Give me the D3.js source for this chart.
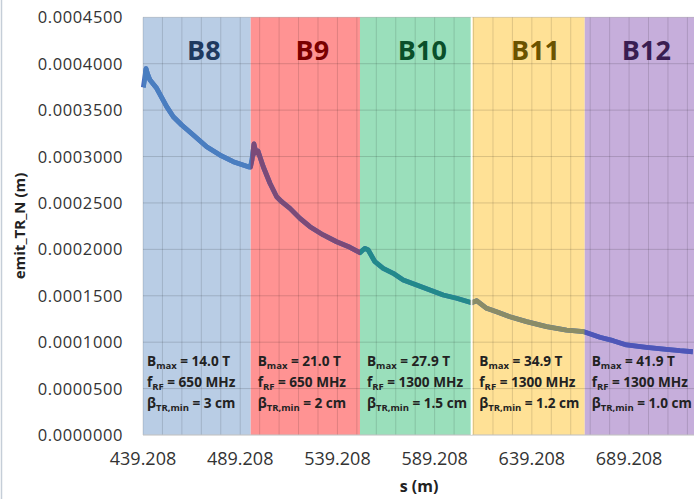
<!DOCTYPE html>
<html><head><meta charset="utf-8">
<script src="https://cdn.jsdelivr.net/npm/d3@7"></script>
<style>
html,body{margin:0;padding:0;background:#fff;}
svg{display:block;font-family:"Open Sans",sans-serif;}
</style></head>
<body>
<svg id="chart" width="696" height="499"></svg>
<script>
// ---- data ----
const sValues = [439.36,440.75,441.52,442.81,446.25,451.39,454.79,459.10,465.07,471.96,478.80,485.63,493.35,494.48,
  495.25,496.28,497.31,498.34,501.06,504.50,507.95,510.52,514.79,519.93,525.07,531.91,538.80,545.63,550.77,
  552.31,553.34,555.04,558.48,562.75,567.90,573.04,579.93,586.77,593.61,600.50,608.21,
  610.78,615.92,621.06,627.90,636.48,646.77,657.05,665.94,
  674.17,681.01,687.90,698.18,708.46,715.30,721.98];
const emitValues = [0.0003746,0.0003946,0.0003889,0.0003824,0.0003735,0.0003537,0.0003429,0.0003340,0.0003232,0.0003106,0.0003016,0.0002944,0.0002890,0.0002887,
  0.0002963,0.0003135,0.0003038,0.0003060,0.0002890,0.0002712,0.0002567,0.0002513,0.0002442,0.0002334,0.0002244,0.0002155,0.0002082,0.0002022,0.0001964,
  0.0001993,0.0002011,0.0001993,0.0001867,0.0001796,0.0001742,0.0001670,0.0001616,0.0001562,0.0001508,0.0001473,0.0001425,
  0.0001447,0.0001365,0.0001328,0.0001274,0.0001221,0.0001167,0.0001131,0.0001113,
  0.0001053,0.0001016,0.0000970,0.0000945,0.0000923,0.0000908,0.0000897];
const regionNames = ["B8","B9","B10","B11","B12"];
const regionStart = [439.208,494.6,550.8,608.6,666.4];
const regionEnd   = [494.6,550.8,607.8,666.4,722.6];
const bmaxText = ["14.0 T","21.0 T","27.9 T","34.9 T","41.9 T"];
const frfText  = ["650 MHz","650 MHz","1300 MHz","1300 MHz","1300 MHz"];
const betaText = ["3 cm","2 cm","1.5 cm","1.2 cm","1.0 cm"];
const xTickValues = [439.208,489.208,539.208,589.208,639.208,689.208];
const xTickLabels = ["439.208","489.208","539.208","589.208","639.208","689.208"];
const yTickValues = [0,0.00005,0.0001,0.00015,0.0002,0.00025,0.0003,0.00035,0.0004,0.00045];
const yTickLabels = ["0.0000000","0.0000500","0.0001000","0.0001500","0.0002000","0.0002500","0.0003000","0.0003500","0.0004000","0.0004500"];
const xMin = 439.208, xMax = 722.6, gridStep = 10;

// ---- styles ----
const regionFill = ["#b9cde5","#ff9393","#9adfbb","#ffe196","#c6aedb"];
const regionLabelColor = ["#1f3a5f","#7a0000","#0a4f2a","#6b5300","#3a1d52"];
const lineColor = ["#4a7ec0","#7b4a78","#22898b","#8a8c67","#4e56b8"];

const svg = d3.select("#chart");
const L = 143, R = 694, T = 17.3, B = 435;
const x = d3.scaleLinear().domain([xMin, xMax]).range([L, R]);
const y = d3.scaleLinear().domain([0, 0.00045]).range([B, T]);

// left border of chart area
svg.append("line").attr("x1",1.5).attr("x2",1.5).attr("y1",0).attr("y2",499)
  .attr("stroke","#c5ced8").attr("stroke-width",1.5);

// region backgrounds
const defs = svg.append("defs");
regionNames.forEach((n,i)=>{
  svg.append("rect").attr("x",x(regionStart[i])).attr("y",T)
    .attr("width",x(regionEnd[i])-x(regionStart[i])).attr("height",B-T)
    .attr("fill",regionFill[i]);
  defs.append("clipPath").attr("id","clip"+i).append("rect")
    .attr("x",x(regionStart[i]) - (i===3?2:0)).attr("y",0)
    .attr("width",x(regionEnd[i])-x(regionStart[i]) + (i===3?2:0)).attr("height",499);
});

// gridlines
const vg = d3.range(xMin, xMax, gridStep);
svg.append("g").selectAll("line").data(vg).join("line")
  .attr("x1",d=>x(d)).attr("x2",d=>x(d)).attr("y1",T).attr("y2",B)
  .attr("stroke","rgba(0,0,0,0.13)").attr("stroke-width",1);
svg.append("g").selectAll("line").data(yTickValues).join("line")
  .attr("x1",L).attr("x2",R).attr("y1",d=>y(d)).attr("y2",d=>y(d))
  .attr("stroke","rgba(0,0,0,0.15)").attr("stroke-width",1);
svg.append("line").attr("x1",L).attr("x2",R).attr("y1",B).attr("y2",B)
  .attr("stroke","#d0d0d0").attr("stroke-width",1);

// line
const pts = sValues.map((s,i)=>[s, emitValues[i]]);
const lineGen = d3.line().x(d=>x(d[0])).y(d=>y(d[1]));
svg.append("path").attr("d",lineGen(pts)).attr("fill","none")
  .attr("stroke","#4a70c0").attr("stroke-width",4.8).attr("stroke-linejoin","round");
regionNames.forEach((n,i)=>{
  svg.append("path").attr("d",lineGen(pts)).attr("fill","none")
    .attr("clip-path","url(#clip"+i+")")
    .attr("stroke",lineColor[i]).attr("stroke-width",4.8).attr("stroke-linejoin","round");
});
// white gap between B10 and B11
svg.append("line").attr("x1",x(608.2)).attr("x2",x(608.2)).attr("y1",T).attr("y2",B)
  .attr("stroke","#ffffff").attr("stroke-width",1.6).attr("opacity",0.9);

// region labels
regionNames.forEach((n,i)=>{
  const cx = (x(regionStart[i])+x(regionEnd[i]))/2 + 7;
  svg.append("text").attr("x",cx).attr("y",60).attr("text-anchor","middle")
    .attr("font-size",27).attr("font-weight","bold").attr("fill",regionLabelColor[i]).text(n);
});

// annotations
regionNames.forEach((n,i)=>{
  const x0 = x(regionStart[i]) + (i===0?4:7);
  const g = svg.append("g").attr("font-size",13.6).attr("font-weight","bold").attr("fill","#222");
  const t1 = g.append("text").attr("x",x0).attr("y",366);
  t1.append("tspan").text("B");
  t1.append("tspan").attr("font-size",9.5).attr("dy",3).text("max");
  t1.append("tspan").attr("dy",-3).text(" = " + bmaxText[i]);
  const t2 = g.append("text").attr("x",x0).attr("y",387);
  t2.append("tspan").text("f");
  t2.append("tspan").attr("font-size",9.5).attr("dy",3).text("RF");
  t2.append("tspan").attr("dy",-3).text(" = " + frfText[i]);
  const t3 = g.append("text").attr("x",x0).attr("y",408);
  t3.append("tspan").text("β");
  t3.append("tspan").attr("font-size",9.5).attr("dy",3).text("TR,min");
  t3.append("tspan").attr("dy",-3).text(" = " + betaText[i]);
});

// y axis labels
svg.append("g").selectAll("text").data(yTickValues).join("text")
  .attr("x",123).attr("y",d=>y(d)+6).attr("text-anchor","end")
  .attr("font-size",16.5).attr("letter-spacing",0.6).attr("fill","#333")
  .text((d,i)=>yTickLabels[i]);
// x axis labels
svg.append("g").selectAll("text").data(xTickValues).join("text")
  .attr("x",d=>x(d)).attr("y",465).attr("text-anchor","middle")
  .attr("font-size",18).attr("fill","#333")
  .text((d,i)=>xTickLabels[i]);

// axis titles
svg.append("text").attr("transform","translate(25,226) rotate(-90)")
  .attr("text-anchor","middle").attr("font-size",15).attr("font-weight","bold").attr("fill","#222")
  .text("emit_TR_N (m)");
svg.append("text").attr("x",419).attr("y",492).attr("text-anchor","middle")
  .attr("font-size",16).attr("font-weight","bold").attr("fill","#222").text("s (m)");
</script>
</body></html>
